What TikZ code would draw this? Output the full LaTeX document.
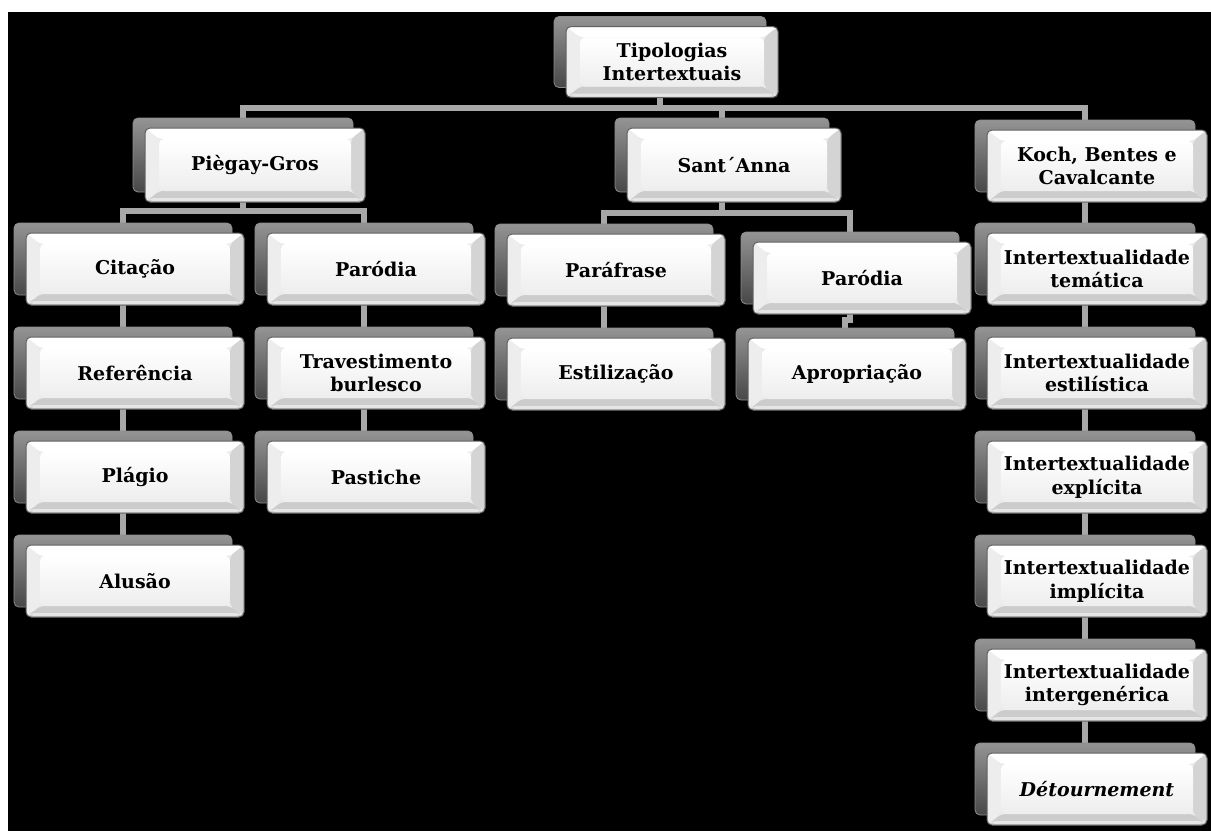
\documentclass[tikz,border=0pt]{standalone}
\usepackage{fontspec}
\setmainfont{DejaVu Serif}
\usetikzlibrary{calc}
\pgfdeclarelayer{bottom}
\pgfdeclarelayer{lines}
\pgfsetlayers{bottom,lines,main}
\definecolor{conncol}{HTML}{A8A8A8}
\tikzset{
  conn/.style={draw=conncol, line width=6pt},
  backbox/.style={rectangle, rounded corners=5pt, minimum width=218pt, minimum height=72pt,
    draw=black!45, line width=0.8pt, top color=black!42, bottom color=black!72},
  frontbox/.style={rectangle, rounded corners=5pt, minimum width=218pt, minimum height=72pt,
    inner sep=2pt, draw=black!62, line width=1pt, fill=black!8, align=center,
    font=\fontsize{19}{23.5}\selectfont\bfseries,
    path picture={
      \fill[white] (path picture bounding box.north west) -- (path picture bounding box.north east)
        -- ([shift={(-14pt,-11pt)}]path picture bounding box.north east)
        -- ([shift={(14pt,-11pt)}]path picture bounding box.north west) -- cycle;
      \fill[black!20] (path picture bounding box.south west) -- (path picture bounding box.south east)
        -- ([shift={(-14pt,11pt)}]path picture bounding box.south east)
        -- ([shift={(14pt,11pt)}]path picture bounding box.south west) -- cycle;
      \fill[black!7] (path picture bounding box.south west) -- (path picture bounding box.north west)
        -- ([shift={(14pt,-11pt)}]path picture bounding box.north west)
        -- ([shift={(14pt,11pt)}]path picture bounding box.south west) -- cycle;
      \fill[black!17] (path picture bounding box.south east) -- (path picture bounding box.north east)
        -- ([shift={(-14pt,-11pt)}]path picture bounding box.north east)
        -- ([shift={(-14pt,11pt)}]path picture bounding box.south east) -- cycle;
      \shade[top color=white, bottom color=black!7]
        ([shift={(14pt,11pt)}]path picture bounding box.south west)
        rectangle ([shift={(-14pt,-11pt)}]path picture bounding box.north east);
      \fill[black!10] ([shift={(3pt,1pt)}]path picture bounding box.south west)
        rectangle ([shift={(-3pt,4pt)}]path picture bounding box.south east);
    }},
}
\newcommand\tnode[4][]{%
  \node[backbox,#1] (#2b) at ($(#3)+(-12,-10)$) {};
  \node[frontbox,#1] (#2) at (#3) {#4};
}
\begin{document}
\begin{tikzpicture}[x=1pt,y=-1pt]
\useasboundingbox (0,0) rectangle (1211,831);
\begin{pgfonlayer}{bottom}
  \fill[white] (0,0) rectangle (1211,831);
  \fill[black] (8,12) rectangle (1211,831);
\end{pgfonlayer}
% nodes
\tnode[minimum width=212pt,minimum height=71pt]{top}{672,62}{Tipologias\\Intertextuais}
\tnode[minimum width=220pt,minimum height=74pt]{pg}{255,165}{Piègay-Gros}
\tnode[minimum width=214pt,minimum height=74pt]{sa}{734,165}{Sant´Anna}
\tnode[minimum width=220pt]{kbc}{1097,166}{Koch, Bentes e\\Cavalcante}
\tnode{cit}{135,269}{Citação}
\tnode{ref}{135,373}{Referência}
\tnode{pla}{135,477}{Plágio}
\tnode{alu}{135,581}{Alusão}
\tnode{pari}{376,269}{Paródia}
\tnode{tra}{376,373}{Travestimento\\burlesco}
\tnode{pas}{376,477}{Pastiche}
\tnode{paf}{616,270}{Paráfrase}
\tnode{est}{616,374}{Estilização}
\tnode{parii}{862,278}{Paródia}
\tnode{apr}{857,374}{Apropriação}
\tnode[minimum width=220pt]{tem}{1097,269}{Intertextualidade\\temática}
\tnode[minimum width=220pt]{esti}{1097,373}{Intertextualidade\\estilística}
\tnode[minimum width=220pt]{expl}{1097,477}{Intertextualidade\\explícita}
\tnode[minimum width=220pt]{impl}{1097,581}{Intertextualidade\\implícita}
\tnode[minimum width=220pt]{inge}{1097,685}{Intertextualidade\\intergenérica}
\tnode[minimum width=220pt]{det}{1097,789}{\itshape Détournement}
% connectors
\coordinate (bus1) at (0,108);
\coordinate (bus2) at (0,211);
\coordinate (bus3) at (0,213);
\coordinate (bus4) at (0,320);
\begin{pgfonlayer}{lines}
  \draw[conn] (topb.center) -- (topb.center |- bus1) -| (pgb.north);
  \draw[conn] (topb.center |- bus1) -| (sab.north);
  \draw[conn] (topb.center |- bus1) -| (kbcb.north);
  \draw[conn] (pgb.center) -- (pgb.center |- bus2) -| (citb.north);
  \draw[conn] (pgb.center |- bus2) -| (parib.north);
  \draw[conn] (sab.center) -- (sab.center |- bus3) -| (pafb.north);
  \draw[conn] (sab.center |- bus3) -| (pariib.north);
  \draw[conn] (kbcb.center) -- (temb.north);
  \draw[conn] (citb.center) -- (refb.north);
  \draw[conn] (refb.center) -- (plab.north);
  \draw[conn] (plab.center) -- (alub.north);
  \draw[conn] (parib.center) -- (trab.north);
  \draw[conn] (trab.center) -- (pasb.north);
  \draw[conn] (pafb.center) -- (estb.north);
  \draw[conn] (pariib.center) -- (pariib.center |- bus4) -| (aprb.north);
  \draw[conn] (temb.center) -- (estib.north);
  \draw[conn] (estib.center) -- (explb.north);
  \draw[conn] (explb.center) -- (implb.north);
  \draw[conn] (implb.center) -- (ingeb.north);
  \draw[conn] (ingeb.center) -- (detb.north);
\end{pgfonlayer}
\end{tikzpicture}
\end{document}
